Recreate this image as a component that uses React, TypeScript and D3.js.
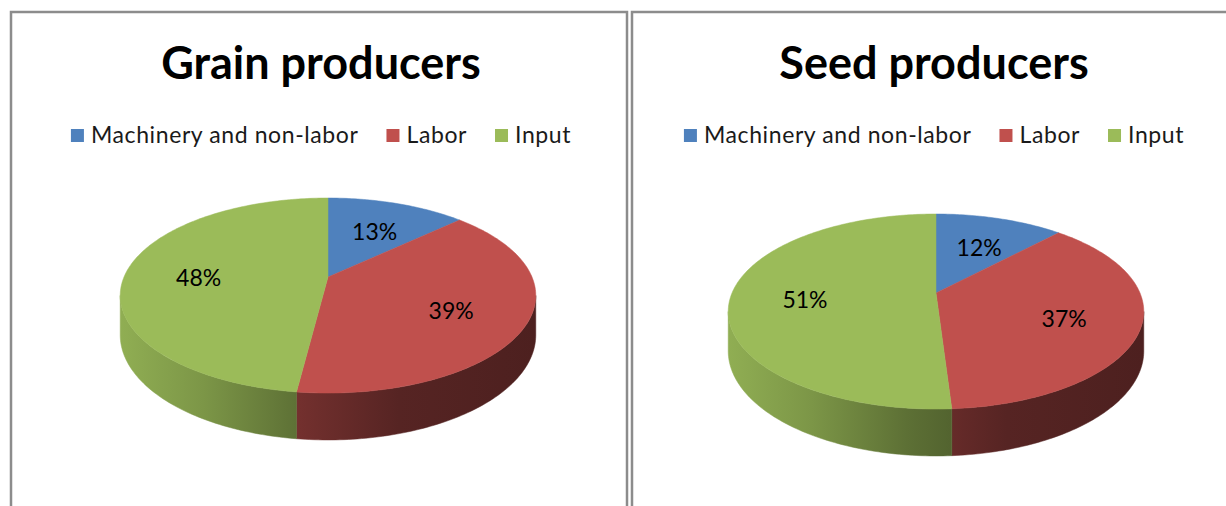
import React, { useEffect, useRef } from "react";
import * as d3 from "d3";

// data
const categories = ["Machinery and non-labor", "Labor", "Input"];
const grainValues = [13, 39, 48];
const seedValues = [12, 37, 51];
const titles = ["Grain producers", "Seed producers"];
const colors = ["#4f81bd", "#c0504d", "#9bbb59"];

// layout of the two chart frames
const panels = [
  { frameX: 11, frameW: 616, midX: 321, cx: 328, cy: 277, values: grainValues, title: titles[0] },
  { frameX: 632, frameW: 620, midX: 934, cx: 936, cy: 293, values: seedValues, title: titles[1] },
];

// 3d pie projection params
const RX = 204;
const RY = 94;
const PERSP = 0.19;
const DEPTH = 38;
const FONT = "Lato, 'Open Sans', sans-serif";

const proj = (cx: number, cy: number, phi: number, r: number, w: number): [number, number] => {
  const u = r * Math.sin(phi);
  const v = r * Math.cos(phi);
  const s = 1 / (1 + PERSP * v);
  return [cx + RX * u * s, cy - RY * v * s + DEPTH * w * s];
};

const sample = (a0: number, a1: number) => {
  const n = Math.max(2, Math.ceil(((a1 - a0) * 180) / Math.PI));
  return d3.range(n + 1).map((i) => a0 + ((a1 - a0) * i) / n);
};

const App = () => {
  const ref = useRef<SVGSVGElement | null>(null);

  useEffect(() => {
    const svg = d3.select(ref.current);
    svg.selectAll("*").remove();
    const defs = svg.append("defs");
    const line = d3.line<[number, number]>();
    const pie = d3.pie<number>().sort(null).value((d) => d);
    const vis0 = Math.acos(-PERSP);
    const vis1 = 2 * Math.PI - vis0;
    // side shading, left to right
    const shade: [number, number][] = [
      [0, 0.93],
      [0.2, 0.8],
      [0.43, 0.6],
      [0.67, 0.45],
      [1, 0.4],
    ];

    panels.forEach((p, ci) => {
      const g = svg.append("g");

      // frame
      g.append("rect")
        .attr("x", p.frameX)
        .attr("y", 12)
        .attr("width", p.frameW)
        .attr("height", 520)
        .attr("fill", "#fff")
        .attr("stroke", "#8c8c8c")
        .attr("stroke-width", 2.5);

      // title
      g.append("text")
        .attr("x", p.midX)
        .attr("y", 79)
        .attr("text-anchor", "middle")
        .attr("font-family", FONT)
        .attr("font-weight", "bold")
        .attr("font-size", 45)
        .attr("fill", "#000")
        .text(p.title);

      // legend
      const leg = g.append("g");
      let x = 0;
      categories.forEach((c, i) => {
        leg.append("rect")
          .attr("x", x)
          .attr("y", 129)
          .attr("width", 13)
          .attr("height", 13)
          .attr("fill", colors[i]);
        const t = leg.append("text")
          .attr("x", x + 20)
          .attr("y", 143)
          .attr("font-family", FONT)
          .attr("font-size", 23)
          .attr("letter-spacing", 0.6)
          .attr("fill", "#1a1a1a")
          .text(c);
        const w = (t.node() as SVGTextElement).getComputedTextLength();
        x += 20 + w + 28;
      });
      const legW = x - 28;
      leg.attr("transform", `translate(${p.midX - legW / 2},0)`);

      const arcs = pie(p.values);

      // gradients for the sides
      arcs.forEach((a, i) => {
        const grad = defs.append("linearGradient")
          .attr("id", `side-${ci}-${i}`)
          .attr("gradientUnits", "userSpaceOnUse")
          .attr("x1", p.cx - RX * 1.02)
          .attr("x2", p.cx + RX * 1.02)
          .attr("y1", 0)
          .attr("y2", 0);
        const base = d3.rgb(colors[i]);
        shade.forEach(([o, f]) => {
          grad.append("stop")
            .attr("offset", o)
            .attr("stop-color", d3.rgb(base.r * f, base.g * f, base.b * f).formatHex());
        });
      });

      // sides
      arcs.forEach((a, i) => {
        const s0 = Math.max(a.startAngle, vis0);
        const s1 = Math.min(a.endAngle, vis1);
        if (s1 <= s0) return;
        const angles = sample(s0, s1);
        const pts = [
          ...angles.map((phi) => proj(p.cx, p.cy, phi, 1, 0)),
          ...angles.slice().reverse().map((phi) => proj(p.cx, p.cy, phi, 1, 1)),
        ];
        g.append("path")
          .attr("d", line(pts) + "Z")
          .attr("fill", `url(#side-${ci}-${i})`)
          .attr("stroke", `url(#side-${ci}-${i})`)
          .attr("stroke-width", 0.5);
      });

      // tops
      arcs.forEach((a, i) => {
        const pts = [
          proj(p.cx, p.cy, 0, 0, 0),
          ...sample(a.startAngle, a.endAngle).map((phi) => proj(p.cx, p.cy, phi, 1, 0)),
        ];
        g.append("path")
          .attr("d", line(pts) + "Z")
          .attr("fill", colors[i])
          .attr("stroke", colors[i])
          .attr("stroke-width", 0.5);
      });

      // data labels
      arcs.forEach((a) => {
        const mid = (a.startAngle + a.endAngle) / 2;
        const [lx, ly] = proj(p.cx, p.cy, mid, 0.64, 0);
        g.append("text")
          .attr("x", lx)
          .attr("y", ly + 5)
          .attr("dy", "0.35em")
          .attr("text-anchor", "middle")
          .attr("font-family", FONT)
          .attr("font-size", 23)
          .attr("fill", "#000")
          .text(`${a.data}%`);
      });
    });
  }, []);

  return (
    <svg
      ref={ref}
      width={1226}
      height={506}
      style={{ position: "absolute", left: 0, top: 0, background: "#fff" }}
    />
  );
};

export default App;
